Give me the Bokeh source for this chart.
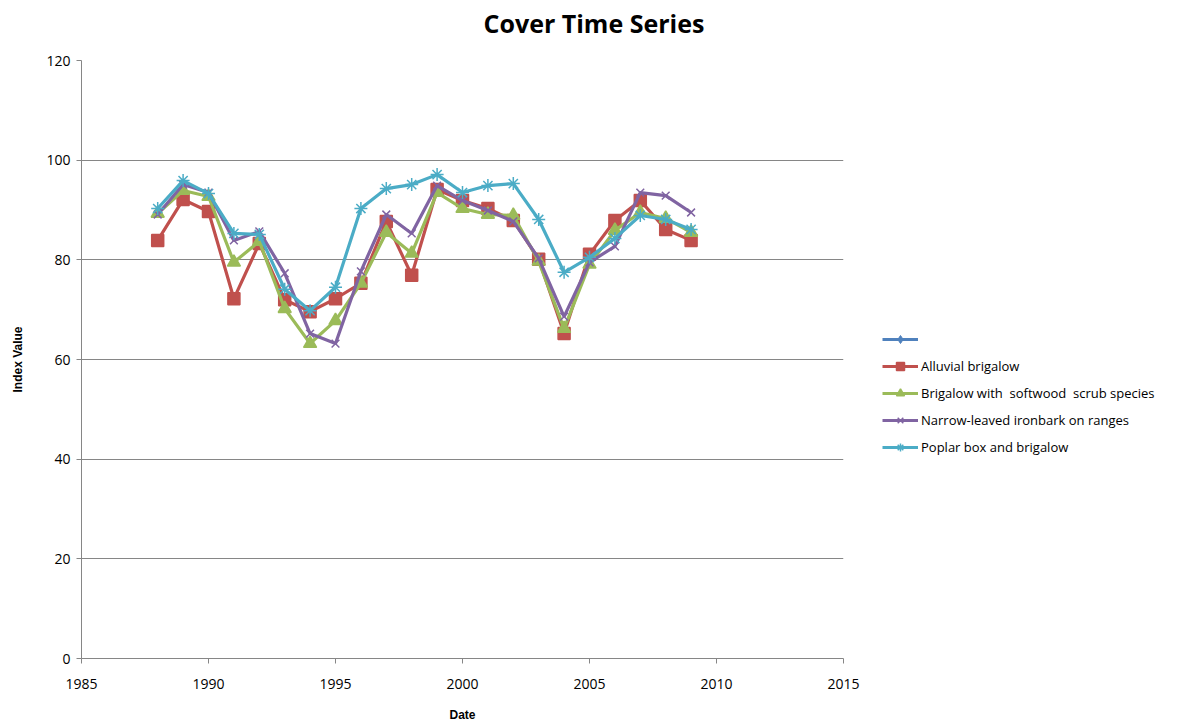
from bokeh.plotting import figure
from bokeh.models import Legend, LegendItem, Title, FixedTicker
from bokeh.embed import file_html
from bokeh.resources import INLINE

years = list(range(1988, 2010))
alluvial = [83.9, 92.1, 89.7, 72.2, 83.3, 72.0, 69.6, 72.2, 75.3, 87.7, 76.9, 94.1, 91.9, 90.3, 87.9, 80.1, 65.2, 81.1, 87.9, 91.9, 86.1, 83.9]
softwood = [89.3, 93.9, 92.7, 79.5, 83.7, 70.2, 63.2, 67.8, 75.3, 85.5, 81.3, 93.5, 90.3, 89.1, 88.9, 79.7, 66.2, 79.1, 85.9, 89.5, 88.3, 85.5]
ironbark = [89.1, 95.1, 93.5, 83.9, 85.7, 77.3, 65.2, 63.2, 77.7, 89.1, 85.3, 94.9, 91.9, 89.9, 87.7, 80.3, 68.6, 79.5, 82.7, 93.5, 92.9, 89.5]
poplar = [90.3, 95.9, 93.3, 85.3, 85.1, 74.1, 69.8, 74.5, 90.3, 94.3, 95.1, 97.1, 93.5, 94.9, 95.3, 88.1, 77.5, 80.5, 84.3, 88.9, 88.1, 86.1]

names = ["Alluvial brigalow", "Brigalow with  softwood  scrub species",
         "Narrow-leaved ironbark on ranges", "Poplar box and brigalow"]
colors = ["#C0504D", "#9BBB59", "#8064A2", "#4BACC6"]
markers = ["square", "triangle", "x", "asterisk"]
sizes = [12, 13, 11, 13]
series = [alluvial, softwood, ironbark, poplar]

y_ticks = [0, 20, 40, 60, 80, 100, 120]
x_ticks = [1985, 1990, 1995, 2000, 2005, 2010, 2015]

p = figure(width=1182, height=720, output_backend="svg", toolbar_location=None,
           x_range=(1985, 2015), y_range=(0, 120),
           frame_width=762, frame_height=598,
           min_border_left=81, min_border_right=10, min_border_top=60, min_border_bottom=62)
p.title = None
# spacer (closest to the frame), then the main title above it
p.add_layout(Title(text=" ", text_font_size="10px", standoff=6), "above")
p.add_layout(Title(text="Cover Time Series", align="left", offset=402, standoff=0,
                   vertical_align="top",
                   text_font="Open Sans", text_font_size="25px", text_font_style="bold",
                   text_color="#000000"), "above")

p.background_fill_color = "white"
p.border_fill_color = "white"
p.outline_line_color = None
p.xgrid.grid_line_color = None
p.ygrid.grid_line_color = "#868686"
p.ygrid.grid_line_width = 1

for ax in (p.xaxis[0], p.yaxis[0]):
    ax.axis_line_color = "#868686"
    ax.major_tick_line_color = "#868686"
    ax.minor_tick_line_color = None
    ax.major_tick_in = 0
    ax.major_tick_out = 5
    ax.major_label_text_font = "Open Sans"
    ax.major_label_text_font_size = "14px"
    ax.major_label_text_color = "#000000"
    ax.axis_label_text_font = "Liberation Sans"
    ax.axis_label_text_font_size = "12px"
    ax.axis_label_text_font_style = "bold"
    ax.axis_label_text_color = "#000000"

p.xaxis.ticker = FixedTicker(ticks=x_ticks)
p.yaxis.ticker = FixedTicker(ticks=y_ticks)
p.xaxis.axis_label = "Date"
p.yaxis.axis_label = "Index Value"
p.xaxis.axis_label_standoff = 16
p.yaxis.axis_label_standoff = 18
p.xaxis.major_label_standoff = 15
p.yaxis.major_label_standoff = 6

items = []
# first series (blue diamond) has no visible data in the chart
bl = p.line(x=[float("nan")], y=[float("nan")], line_color="#4F81BD", line_width=3)
bm = p.scatter(x=[float("nan")], y=[float("nan")], marker="diamond", size=12,
               fill_color="#4F81BD", line_color="#4F81BD")
items.append(LegendItem(label="\u00a0", renderers=[bl, bm]))

for name, col, mk, sz, vals in zip(names, colors, markers, sizes, series):
    ln = p.line(x=years, y=vals, line_color=col, line_width=3.2)
    sc = p.scatter(x=years, y=vals, marker=mk, size=sz, fill_color=col, line_color=col, line_width=1.5)
    items.append(LegendItem(label=name, renderers=[ln, sc]))

legend = Legend(items=items, location=(39, 201), border_line_color=None,
                background_fill_alpha=0, label_text_font="Open Sans", label_text_font_size="13px",
                label_text_color="#000000", glyph_width=36, spacing=7, padding=4,
                label_standoff=3, margin=0)
p.add_layout(legend, "right")

open("out.html", "w").write(file_html(p, INLINE))
